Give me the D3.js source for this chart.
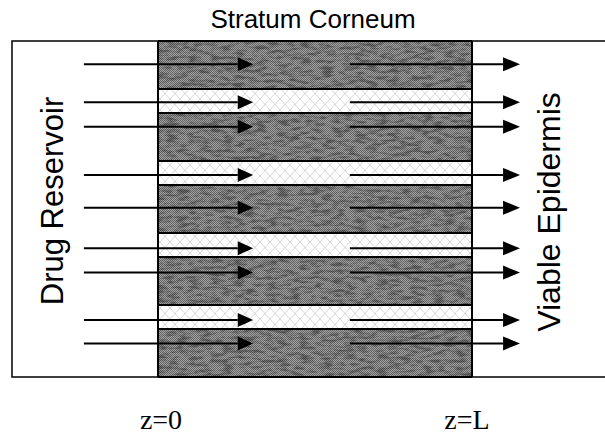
<!DOCTYPE html>
<html>
<head>
<meta charset="utf-8">
<script src="https://cdn.jsdelivr.net/npm/d3@7"></script>
<style>
  body { margin: 0; background: #fff; }
  svg { display: block; }
</style>
</head>
<body>
<svg></svg>
<script>
// Capas del estrato córneo, de arriba a abajo (grosor en unidades relativas)
const layerTypes = ["lipid", "pore", "lipid", "pore", "lipid", "pore", "lipid", "pore", "lipid"];
const layerThickness = [2, 1, 2, 1, 2, 1, 2, 1, 2];

// Profundidad de cada flecha (mismas unidades que las capas)
const arrowDepths = [0.97, 2.55, 3.57, 5.58, 6.95, 8.64, 9.65, 11.63, 12.6];

// Rótulos
const titleLabel = "Stratum Corneum";
const leftLabel = "Drug Reservoir";
const rightLabel = "Viable Epidermis";
const zLabels = [{ z: 0, text: "z=0" }, { z: 1, text: "z=L" }];

var svgWidth = 605, svgHeight = 436;
var svg = d3.select("svg")
    .attr("width", svgWidth)
    .attr("height", svgHeight);

var totalDepth = d3.sum(layerThickness);

// Escalas: z/L en horizontal, profundidad en vertical
var x = d3.scaleLinear().domain([0, 1]).range([158, 472]);
var y = d3.scaleLinear().domain([0, totalDepth]).range([41, 377]);

// Texturas
var defs = svg.append("defs");

var dither = defs.append("pattern")
    .attr("id", "dither")
    .attr("width", 2).attr("height", 2)
    .attr("patternUnits", "userSpaceOnUse");
dither.append("rect").attr("width", 2).attr("height", 2).attr("fill", "#a2a2a2");
dither.append("rect").attr("width", 1).attr("height", 1).attr("fill", "#666");
dither.append("rect").attr("x", 1).attr("y", 1).attr("width", 1).attr("height", 1).attr("fill", "#666");

var noise = defs.append("filter")
    .attr("id", "noise")
    .attr("x", 0).attr("y", 0).attr("width", 1).attr("height", 1);
noise.append("feTurbulence")
    .attr("type", "fractalNoise")
    .attr("baseFrequency", "0.09 0.3")
    .attr("numOctaves", 4)
    .attr("seed", 7);
noise.append("feColorMatrix")
    .attr("type", "matrix")
    .attr("values", "0 0 0 0 0  0 0 0 0 0  0 0 0 0 0  0 0 0 -3 1.75");

var hatch = defs.append("pattern")
    .attr("id", "hatch")
    .attr("width", 10).attr("height", 11)
    .attr("patternUnits", "userSpaceOnUse");
hatch.append("rect").attr("width", 10).attr("height", 11).attr("fill", "#fff");
hatch.append("path")
    .attr("d", "M0,0L10,11M10,0L0,11")
    .attr("stroke", "#c4c4c4")
    .attr("stroke-width", 0.7)
    .attr("fill", "none");

// Capas con sus límites acumulados
var layers = layerTypes.map(function(t, i) {
    var d0 = d3.sum(layerThickness.slice(0, i));
    return { type: t, d0: d0, d1: d0 + layerThickness[i] };
});

var g = svg.append("g");

g.selectAll("rect.layer")
    .data(layers)
    .enter().append("rect")
    .attr("class", "layer")
    .attr("x", x(0))
    .attr("width", x(1) - x(0))
    .attr("y", function(d) { return y(d.d0); })
    .attr("height", function(d) { return y(d.d1) - y(d.d0); })
    .attr("fill", function(d) { return d.type === "lipid" ? "url(#dither)" : "url(#hatch)"; });

// Manchas irregulares sobre las capas oscuras
g.selectAll("rect.blot")
    .data(layers.filter(function(d) { return d.type === "lipid"; }))
    .enter().append("rect")
    .attr("class", "blot")
    .attr("x", x(0))
    .attr("width", x(1) - x(0))
    .attr("y", function(d) { return y(d.d0); })
    .attr("height", function(d) { return y(d.d1) - y(d.d0); })
    .attr("fill", "#000")
    .attr("opacity", 0.35)
    .attr("filter", "url(#noise)");

// Líneas entre capas
g.selectAll("line.sep")
    .data(d3.range(totalDepth + 1).filter(function(d) {
        return layers.some(function(l) { return l.d0 === d || l.d1 === d; });
    }))
    .enter().append("line")
    .attr("x1", x(0)).attr("x2", x(1))
    .attr("y1", function(d) { return y(d); })
    .attr("y2", function(d) { return y(d); })
    .attr("stroke", "#000")
    .attr("stroke-width", 2);

// Bordes del estrato córneo
[0, 1].forEach(function(z) {
    g.append("line")
        .attr("x1", x(z)).attr("x2", x(z))
        .attr("y1", y(0)).attr("y2", y(totalDepth))
        .attr("stroke", "#000")
        .attr("stroke-width", 2);
});

// Caja del reservorio y de la epidermis
g.append("path")
    .attr("d", "M" + x(0) + "," + y(0) + "H" + x(-0.465) + "V" + y(totalDepth) + "H" + x(0))
    .attr("fill", "none")
    .attr("stroke", "#000")
    .attr("stroke-width", 1.5);
g.append("path")
    .attr("d", "M" + x(1) + "," + y(0) + "H" + svgWidth + "M" + x(1) + "," + y(totalDepth) + "H" + svgWidth)
    .attr("fill", "none")
    .attr("stroke", "#000")
    .attr("stroke-width", 1.5);

// Flechas: entrada (reservorio -> SC) y salida (SC -> epidermis)
var arrowSets = [
    { x0: -0.236, x1: 0.254, tip: 0.303 },
    { x0: 0.611, x1: 1.099, tip: 1.153 }
];

arrowSets.forEach(function(a) {
    g.selectAll(null)
        .data(arrowDepths)
        .enter().append("line")
        .attr("x1", x(a.x0)).attr("x2", x(a.x1))
        .attr("y1", function(d) { return y(d); })
        .attr("y2", function(d) { return y(d); })
        .attr("stroke", "#000")
        .attr("stroke-width", 2);
    g.selectAll(null)
        .data(arrowDepths)
        .enter().append("path")
        .attr("d", function(d) {
            var yy = y(d);
            return "M" + x(a.x1) + "," + (yy - 7) + "L" + x(a.tip) + "," + yy + "L" + x(a.x1) + "," + (yy + 7) + "Z";
        })
        .attr("fill", "#000");
});

// Textos
svg.append("text")
    .attr("x", 313).attr("y", 28)
    .attr("text-anchor", "middle")
    .style("font-family", "'Liberation Sans', Arial, sans-serif")
    .style("font-size", "26px")
    .text(titleLabel);

svg.append("text")
    .attr("transform", "translate(63," + 201 + ") rotate(-90)")
    .attr("text-anchor", "middle")
    .style("font-family", "'Liberation Sans', Arial, sans-serif")
    .style("font-size", "31px")
    .text(leftLabel);

svg.append("text")
    .attr("transform", "translate(560," + 212 + ") rotate(-90)")
    .attr("text-anchor", "middle")
    .style("font-family", "'Liberation Sans', Arial, sans-serif")
    .style("font-size", "32px")
    .text(rightLabel);

svg.selectAll("text.z")
    .data(zLabels)
    .enter().append("text")
    .attr("class", "z")
    .attr("x", function(d) { return x(d.z) + (d.z === 0 ? 3 : -5); })
    .attr("y", 429)
    .attr("text-anchor", "middle")
    .style("font-family", "'Liberation Serif', 'Times New Roman', serif")
    .style("font-size", "28px")
    .text(function(d) { return d.text; });
</script>
</body>
</html>
